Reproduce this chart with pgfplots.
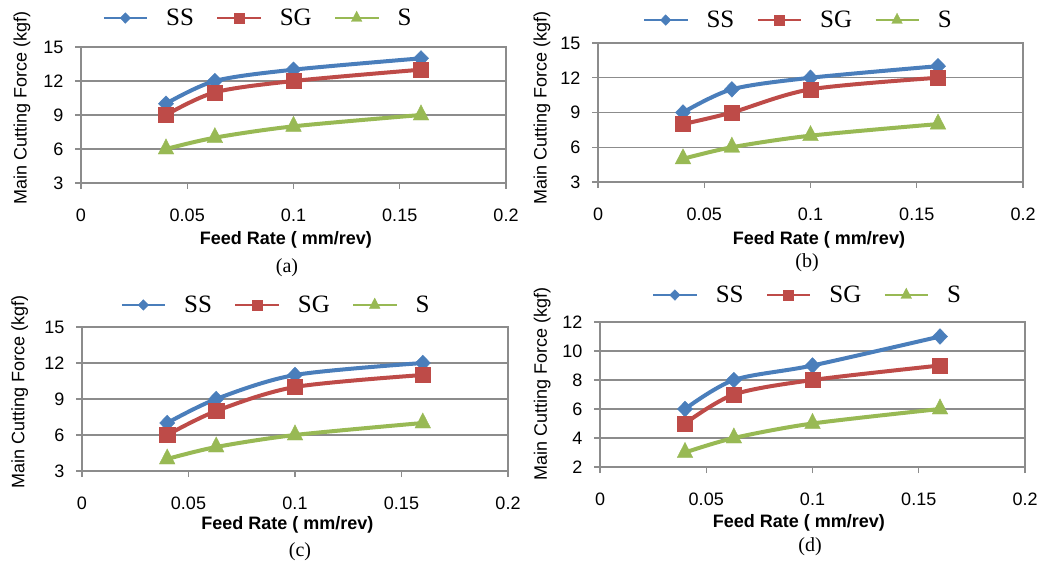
\documentclass[border=0pt]{standalone}
\usepackage{pgfplots}
\pgfplotsset{compat=1.18}
\usepackage{fontspec}
\setmainfont{Liberation Serif}
\newfontfamily\axfont{Liberation Sans}
\definecolor{ssblue}{HTML}{4A7EBB}
\definecolor{sgred}{HTML}{BE4B48}
\definecolor{sgreen}{HTML}{98B954}
\definecolor{axgray}{HTML}{8C8C8C}
\pgfplotsset{
  panel/.style={
    scale only axis, width=425pt, height=136pt, anchor=south west,
    xmin=0, xmax=0.2,
    xtick={0,0.05,0.1,0.15,0.2}, xticklabels={0,0.05,0.1,0.15,0.2},
    ymajorgrids, grid style={line width=1.2pt, axgray},
    axis line style={line width=1.2pt, axgray},
    tick style={line width=1.2pt, axgray},
    tick align=outside, major tick length=6pt,
    xtick pos=bottom, ytick pos=left,
    /pgf/number format/assume math mode=true,
    ticklabel style={font=\axfont\fontsize{18}{20}\selectfont, text=black},
    xticklabel style={yshift=-16pt},
    yticklabel style={xshift=-8pt},
    xlabel={\bfseries Feed Rate ( mm/rev)},
    ylabel={Main Cutting  Force (kgf)},
    label style={font=\axfont\fontsize{18}{20}\selectfont},
    ylabel style={rotate=0, anchor=center},
    xlabel style={anchor=center},
    legend columns=3,
    legend style={draw=none, fill=none, inner sep=0pt, anchor=center,
      font=\fontsize{25}{27}\selectfont,
      nodes={inner sep=0pt},
      /tikz/every odd column/.append style={column sep=18pt},
      /tikz/every even column/.append style={column sep=22pt}},
    legend image code/.code={\draw[mark repeat=2, mark phase=2, line width=2.8pt] plot coordinates {(0pt,0pt)(21.5pt,0pt)(43pt,0pt)};},
    legend image post style={every mark/.append style={scale=0.68}},
    every axis plot/.append style={line width=4pt, smooth, tension=0.5},
  },
  ss/.style={color=ssblue, mark=diamond*, mark size=7.8pt, mark options={solid, line width=0.4pt, xscale=1.3}},
  sg/.style={color=sgred, mark=square*, mark size=7.6pt, mark options={solid, line width=0.4pt}},
  sa/.style={color=sgreen, mark=triangle*, mark size=9pt, mark options={solid, line width=0.4pt, yscale=1.12}},
}
\begin{document}
\begin{tikzpicture}
\fill[white] (0,0) rectangle (1041pt,565pt);
\useasboundingbox (0,0) rectangle (1041pt,565pt);
% (a)
\begin{axis}[panel, at={(81pt,382pt)}, height=136pt,
  ymin=3, ymax=15, ytick={3,6,9,12,15},
  xlabel style={at={(axis description cs:0.482,-0.42)}},
  ylabel style={at={(axis description cs:-0.139,0.555)}},
  legend style={at={(axis description cs:0.414,1.213)}}]
\addplot[ss] coordinates {(0.04,10)(0.063,12)(0.1,13)(0.16,14)};
\addplot[sg] coordinates {(0.04,9)(0.063,11)(0.1,12)(0.16,13)};
\addplot[sa] coordinates {(0.04,6)(0.063,7)(0.1,8)(0.16,9)};
\legend{SS,SG,S}
\end{axis}
% (b)
\begin{axis}[panel, at={(598pt,383pt)}, height=139pt,
  ymin=3, ymax=15, ytick={3,6,9,12,15},
  xlabel style={at={(axis description cs:0.52,-0.417)}},
  ylabel style={at={(axis description cs:-0.132,0.53)}},
  legend style={at={(axis description cs:0.469,1.165)}}]
\addplot[ss] coordinates {(0.04,9)(0.063,11)(0.1,12)(0.16,13)};
\addplot[sg] coordinates {(0.04,8)(0.063,9)(0.1,11)(0.16,12)};
\addplot[sa] coordinates {(0.04,5)(0.063,6)(0.1,7)(0.16,8)};
\legend{SS,SG,S}
\end{axis}
% (c)
\begin{axis}[panel, at={(82pt,94pt)}, width=426pt, height=144pt,
  ymin=3, ymax=15, ytick={3,6,9,12,15},
  xlabel style={at={(axis description cs:0.482,-0.375)}},
  ylabel style={at={(axis description cs:-0.146,0.55)}},
  legend style={at={(axis description cs:0.453,1.153)}}]
\addplot[ss] coordinates {(0.04,7)(0.063,9)(0.1,11)(0.16,12)};
\addplot[sg] coordinates {(0.04,6)(0.063,8)(0.1,10)(0.16,11)};
\addplot[sa] coordinates {(0.04,4)(0.063,5)(0.1,6)(0.16,7)};
\legend{SS,SG,S}
\end{axis}
% (d)
\begin{axis}[panel, at={(600pt,98pt)}, height=145pt,
  ymin=2, ymax=12, ytick={2,4,6,8,10,12},
  xlabel style={at={(axis description cs:0.468,-0.386)}},
  ylabel style={at={(axis description cs:-0.136,0.57)}},
  legend style={at={(axis description cs:0.486,1.186)}}]
\addplot[ss] coordinates {(0.04,6)(0.063,8)(0.1,9)(0.16,11)};
\addplot[sg] coordinates {(0.04,5)(0.063,7)(0.1,8)(0.16,9)};
\addplot[sa] coordinates {(0.04,3)(0.063,4)(0.1,5)(0.16,6)};
\legend{SS,SG,S}
\end{axis}
\node[font=\fontsize{20}{22}\selectfont] at (287pt,297pt) {(a)};
\node[font=\fontsize{20}{22}\selectfont] at (807pt,302pt) {(b)};
\node[font=\fontsize{20}{22}\selectfont] at (300pt,13pt) {(c)};
\node[font=\fontsize{20}{22}\selectfont] at (810pt,18pt) {(d)};
\end{tikzpicture}
\end{document}
